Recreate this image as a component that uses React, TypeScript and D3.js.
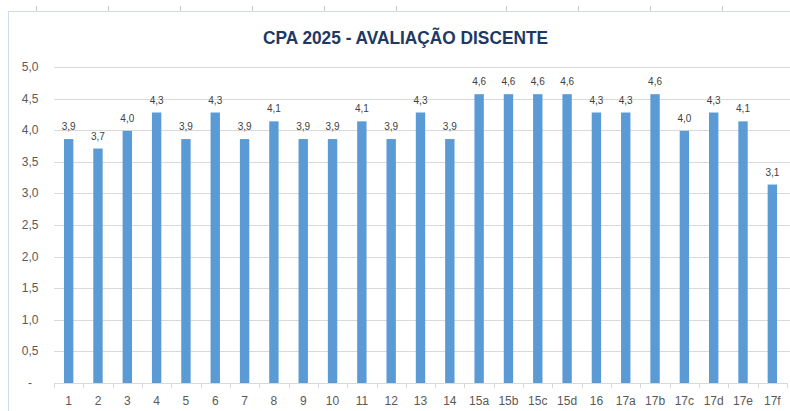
import React from "react";
import * as d3 from "d3";

const categories = ["1","2","3","4","5","6","7","8","9","10","11","12","13","14","15a","15b","15c","15d","16","17a","17b","17c","17d","17e","17f"];
const values = [3.86,3.71,3.99,4.28,3.86,4.28,3.86,4.14,3.86,3.86,4.14,3.86,4.28,3.86,4.57,4.57,4.57,4.57,4.28,4.28,4.57,3.99,4.28,4.14,3.14];
const yTicks = [0,0.5,1,1.5,2,2.5,3,3.5,4,4.5,5];
const title = "CPA 2025 - AVALIAÇÃO DISCENTE";
const sheetColumnEdges = [36,108,180,252,324,396,506,578,650,722];

const W = 790, H = 411;
const fmt = (v: number) => v === 0 ? "-" : d3.format(".1f")(v).replace(".", ",");

export default function App() {
  const x = d3.scaleBand<string>().domain(categories).range([54, 787]).paddingInner(0.68).paddingOuter(0.34);
  const y = d3.scaleLinear().domain([0, 5]).range([383, 67]);
  const step = x.step();
  const x0 = 54;
  const font = "'Liberation Sans', Arial, sans-serif";
  return (
    <svg width={W} height={H} style={{ position: "absolute", left: 0, top: 0, background: "#fff" }}>
      {sheetColumnEdges.map((cx, i) => (
        <line key={"c"+i} x1={cx+0.5} x2={cx+0.5} y1={6} y2={11} stroke="#C8C8C8" strokeWidth={1} />
      ))}
      <line x1={8} x2={W} y1={11.5} y2={11.5} stroke="#CFDDEA" strokeWidth={1} />
      <line x1={8.5} x2={8.5} y1={11} y2={H} stroke="#CFDDEA" strokeWidth={1} />
      <text x={405.5} y={43.5} textAnchor="middle" fontFamily={font} fontWeight="bold" fontSize={19} fill="#203864" textLength={285} lengthAdjust="spacingAndGlyphs">{title}</text>
      {yTicks.map((t) => (
        <g key={"g"+t}>
          {t > 0 && <line x1={54} x2={W} y1={Math.round(y(t))+0.5} y2={Math.round(y(t))+0.5} stroke="#D9D9D9" strokeWidth={1} />}
          <text x={t === 0 ? 32 : 38.5} y={y(t)+4} textAnchor="end" fontFamily={font} fontSize={12} fill="#595959">{fmt(t)}</text>
        </g>
      ))}
      {categories.map((c, i) => (
        <rect key={"b"+c} x={x(c)} y={y(values[i])} width={x.bandwidth()} height={y(0)-y(values[i])} fill="#5B9BD5" />
      ))}
      <line x1={54} x2={787} y1={383.5} y2={383.5} stroke="#D9D9D9" strokeWidth={1} />
      {d3.range(categories.length + 1).map((i) => (
        <line key={"t"+i} x1={Math.round(x0 + i*step)+0.5} x2={Math.round(x0 + i*step)+0.5} y1={383} y2={388} stroke="#D9D9D9" strokeWidth={1} />
      ))}
      {categories.map((c, i) => (
        <text key={"l"+c} x={(x(c) as number) + x.bandwidth()/2} y={y(values[i]) - 9} textAnchor="middle" fontFamily={font} fontSize={10} fill="#404040">{fmt(values[i])}</text>
      ))}
      {categories.map((c) => (
        <text key={"x"+c} x={(x(c) as number) + x.bandwidth()/2} y={405} textAnchor="middle" fontFamily={font} fontSize={12} fill="#595959">{c}</text>
      ))}
    </svg>
  );
}
